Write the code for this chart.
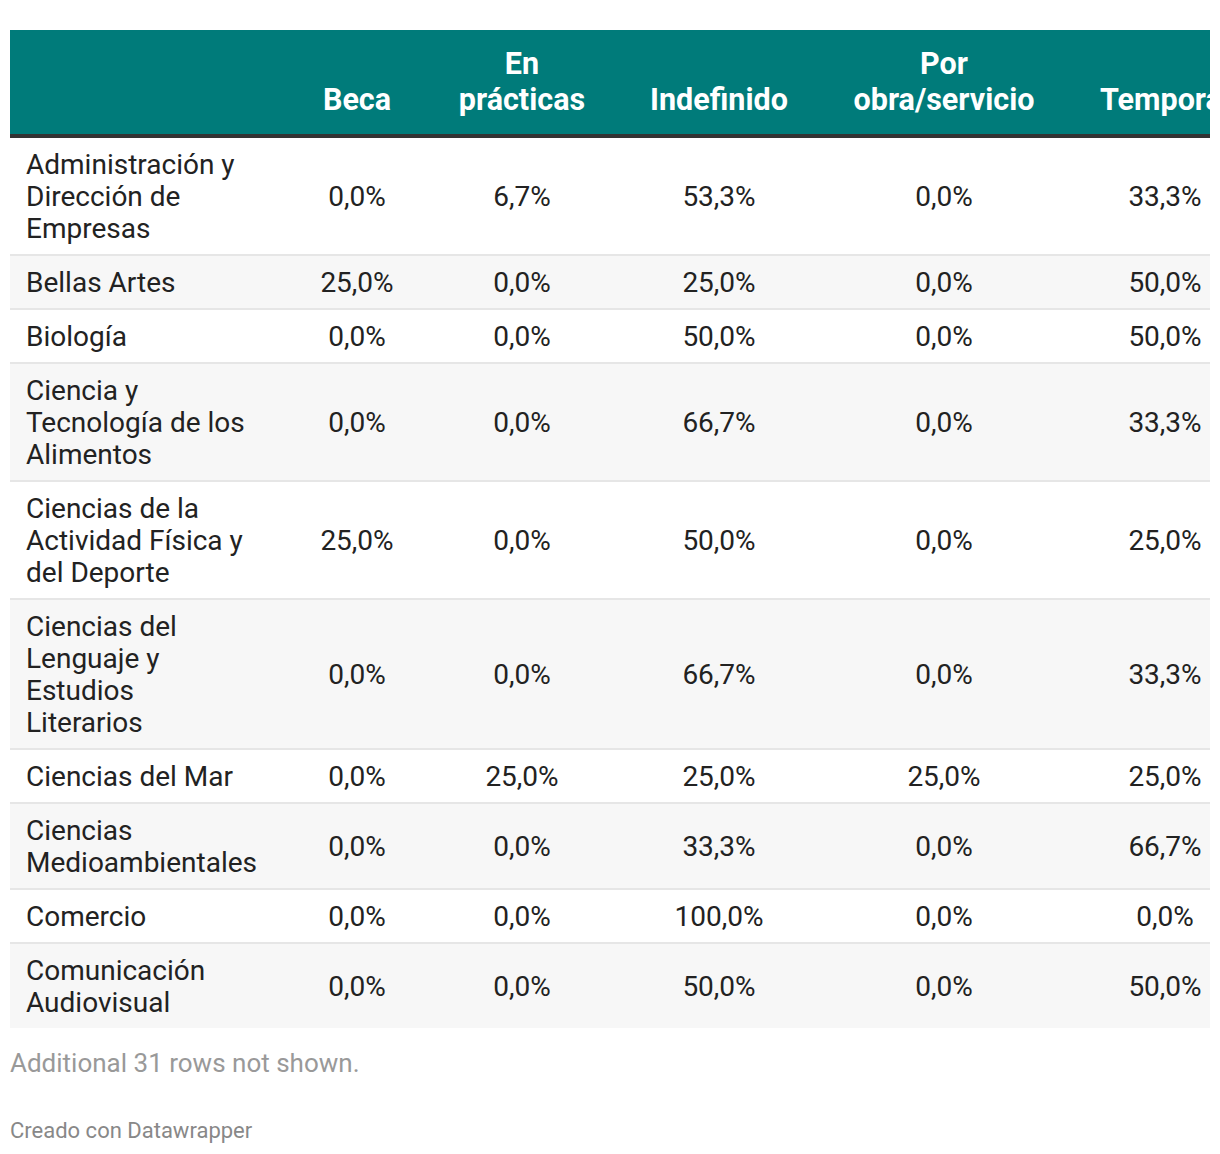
import React from "react";

const titulaciones = [
  "Administración y Dirección de Empresas",
  "Bellas Artes",
  "Biología",
  "Ciencia y Tecnología de los Alimentos",
  "Ciencias de la Actividad Física y del Deporte",
  "Ciencias del Lenguaje y Estudios Literarios",
  "Ciencias del Mar",
  "Ciencias Medioambientales",
  "Comercio",
  "Comunicación Audiovisual"
];

const contratos = ["Beca", "En prácticas", "Indefinido", "Por obra/servicio", "Temporal"];

const beca = [0, 25, 0, 0, 25, 0, 0, 0, 0, 0];
const practicas = [6.7, 0, 0, 0, 0, 0, 25, 0, 0, 0];
const indefinido = [53.3, 25, 50, 66.7, 50, 66.7, 25, 33.3, 100, 50];
const obraServicio = [0, 0, 0, 0, 0, 0, 25, 0, 0, 0];
const temporal = [33.3, 50, 50, 33.3, 25, 33.3, 25, 66.7, 0, 50];

const series = [beca, practicas, indefinido, obraServicio, temporal];

const filasOcultas = 31;

const TEAL = "#007b7a";
const colWidths = [264, 166, 164, 230, 220, 222];

const fmt = (v: number) => v.toFixed(1).replace(".", ",") + "%";

export default function App() {
  return (
    <div
      style={{
        marginLeft: 2,
        marginTop: 22,
        width: 1200,
        overflow: "hidden",
        fontFamily: "Roboto, sans-serif",
        color: "#222"
      }}
    >
      <table
        style={{
          borderCollapse: "collapse",
          tableLayout: "fixed",
          width: colWidths.reduce((a, b) => a + b, 0)
        }}
      >
        <colgroup>
          {colWidths.map((w, i) => (
            <col key={i} style={{ width: w }} />
          ))}
        </colgroup>
        <thead>
          <tr style={{ background: TEAL, borderBottom: "4px solid #333" }}>
            <th style={{ height: 104, padding: 0 }} />
            {contratos.map((c) => (
              <th
                key={c}
                style={{
                  color: "#fff",
                  fontWeight: 700,
                  fontSize: 30.5,
                  lineHeight: "36px",
                  padding: "16px 4px 16px",
                  verticalAlign: "bottom",
                  textAlign: "center"
                }}
              >
                {c}
              </th>
            ))}
          </tr>
        </thead>
        <tbody>
          {titulaciones.map((t, r) => (
            <tr
              key={t}
              style={{
                background: r % 2 === 1 ? "#f7f7f7" : "#fff",
                borderBottom: r < titulaciones.length - 1 ? "2px solid #e6e6e6" : "none"
              }}
            >
              <td
                style={{
                  padding: "11px 0 9px 16px",
                  fontSize: 28,
                  lineHeight: "32px",
                  verticalAlign: "middle"
                }}
              >
                <div style={{ width: 225 }}>{t}</div>
              </td>
              {series.map((s, c) => (
                <td
                  key={c}
                  style={{
                    padding: "11px 0 9px",
                    fontSize: 28,
                    lineHeight: "32px",
                    textAlign: "center",
                    verticalAlign: "middle"
                  }}
                >
                  {fmt(s[r])}
                </td>
              ))}
            </tr>
          ))}
        </tbody>
      </table>
      <div style={{ marginTop: 19, fontSize: 26, lineHeight: "32px", color: "#999" }}>
        Additional {filasOcultas} rows not shown.
      </div>
      <div style={{ marginTop: 39, fontSize: 22, lineHeight: "26px", color: "#888" }}>
        Creado con Datawrapper
      </div>
    </div>
  );
}
